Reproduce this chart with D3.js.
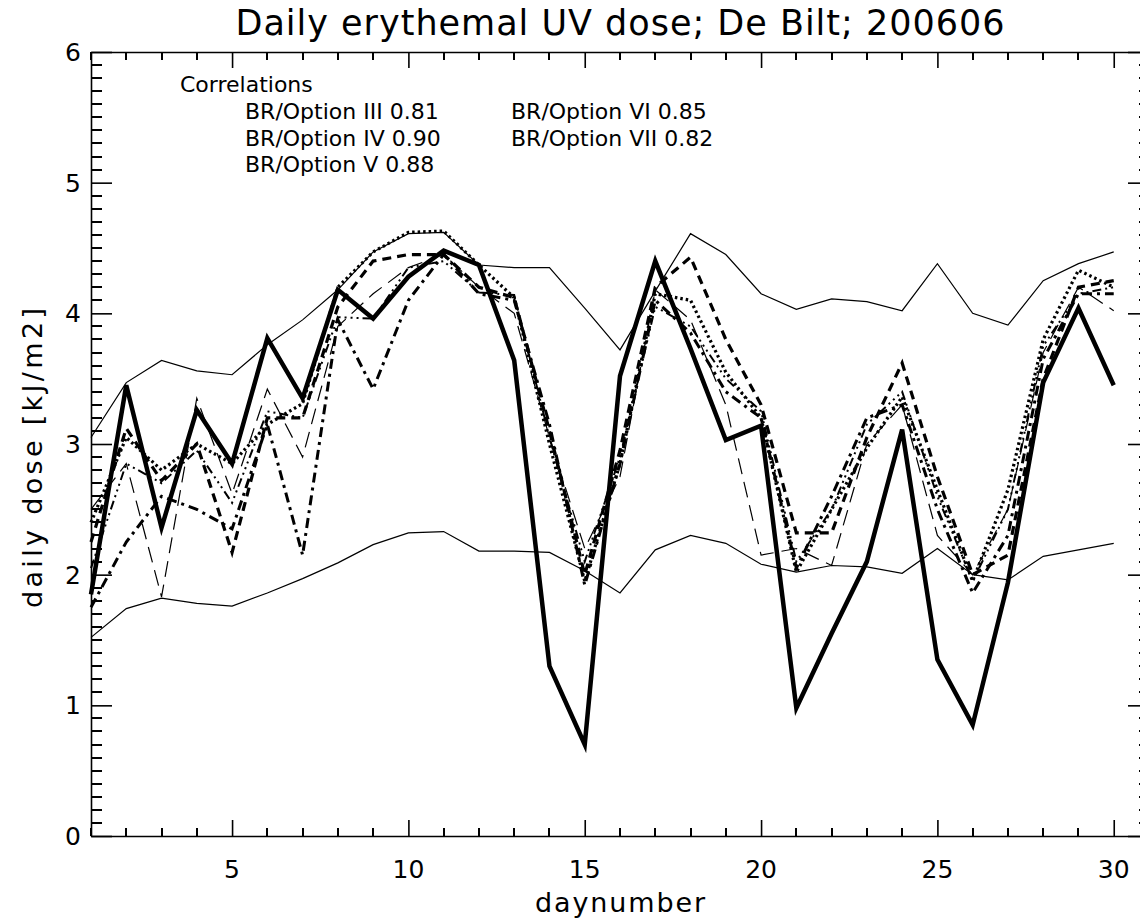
<!DOCTYPE html>
<html lang="en">

<head>
   <meta charset="UTF-8">
   <title>Daily erythemal UV dose</title>
   <script src="https://d3js.org/d3.v7.min.js"></script>
   <style>
      body {
         margin: 0;
         background: #fff;
         font-family: "DejaVu Sans", sans-serif;
      }

      text {
         fill: #000;
      }

      .series {
         fill: none;
         stroke: #000;
         stroke-linejoin: miter;
      }

      .minor {
         stroke: #000;
         stroke-width: 2;
         shape-rendering: crispEdges;
      }
   </style>
</head>

<body>
   <div id="chart"></div>

   <script>
      // day numbers on the x axis
      const days = [1, 2, 3, 4, 5, 6, 7, 8, 9, 10, 11, 12, 13, 14, 15, 16, 17, 18, 19, 20,
         21, 22, 23, 24, 25, 26, 27, 28, 29, 30];

      // BR measurement (thick solid)
      const brDose = [1.85, 3.45, 2.36, 3.26, 2.85, 3.81, 3.35, 4.18, 3.96, 4.28, 4.48, 4.37, 3.64, 1.30, 0.70,
         3.52, 4.40, 3.73, 3.03, 3.14, 0.98, 1.55, 2.10, 3.11, 1.35, 0.85, 1.94, 3.47, 4.04, 3.45];

      // thin solid envelopes
      const upperDose = [3.05, 3.47, 3.64, 3.56, 3.53, 3.76, 3.95, 4.18, 4.47, 4.61, 4.62, 4.37, 4.35, 4.35, 4.04,
         3.72, 4.17, 4.61, 4.45, 4.15, 4.03, 4.11, 4.09, 4.02, 4.38, 4.00, 3.91, 4.25, 4.38, 4.47];
      const lowerDose = [1.52, 1.74, 1.82, 1.78, 1.76, 1.86, 1.97, 2.09, 2.23, 2.32, 2.33, 2.18, 2.18, 2.17, 2.03,
         1.86, 2.19, 2.30, 2.24, 2.08, 2.02, 2.07, 2.06, 2.01, 2.20, 2.00, 1.96, 2.14, 2.19, 2.24];

      // model options
      const optionIII = [2.40, 3.05, 2.80, 3.00, 2.85, 3.15, 3.31, 4.20, 4.47, 4.62, 4.63, 4.37, 4.12, 3.00, 1.95,
         2.85, 4.15, 4.10, 3.55, 3.20, 2.02, 2.50, 2.97, 3.36, 2.65, 1.95, 2.65, 3.80, 4.33, 4.20];
      const optionIV = [2.25, 3.12, 2.72, 3.00, 2.17, 3.20, 3.20, 4.05, 4.40, 4.45, 4.45, 4.20, 4.12, 3.10, 2.00,
         2.95, 4.20, 4.43, 3.80, 3.30, 2.32, 2.32, 3.05, 3.62, 2.75, 2.00, 2.15, 3.50, 4.20, 4.25];
      const optionV = [1.75, 2.25, 2.60, 2.50, 2.35, 3.15, 2.15, 3.95, 3.42, 4.10, 4.45, 4.15, 4.10, 3.15, 1.92,
         2.85, 4.10, 3.85, 3.40, 3.20, 2.05, 2.60, 3.20, 3.30, 2.50, 1.86, 2.30, 3.65, 4.15, 4.15];
      const optionVI = [2.05, 2.85, 2.70, 2.95, 2.55, 3.25, 3.20, 3.97, 3.96, 4.35, 4.40, 4.16, 4.14, 3.05, 2.10,
         2.90, 4.05, 3.90, 3.50, 3.25, 2.10, 2.50, 3.15, 3.40, 2.60, 1.95, 2.50, 3.75, 4.15, 4.20];
      const optionVII = [2.50, 2.85, 1.83, 3.35, 2.62, 3.42, 2.90, 3.90, 4.15, 4.35, 4.45, 4.20, 4.00, 3.05, 2.20,
         2.75, 4.18, 3.95, 3.30, 2.15, 2.20, 2.07, 3.00, 3.30, 2.30, 2.00, 2.50, 3.70, 4.20, 4.02];

      // tick labels
      const xTickValues = [5, 10, 15, 20, 25, 30];
      const yTickValues = [0, 1, 2, 3, 4, 5, 6];

      // legend text
      const legendTitle = 'Correlations';
      const legendLeft = ['BR/Option III 0.81', 'BR/Option IV 0.90', 'BR/Option V 0.88'];
      const legendRight = ['BR/Option VI 0.85', 'BR/Option VII 0.82'];

      const width = 1140;
      const height = 922;
      const margin = { top: 52, right: -9, bottom: 86, left: 91 };

      const svg = d3.select('#chart')
         .append('svg')
         .attr('width', width)
         .attr('height', height);

      // x runs to 31, so the right border falls just outside the picture
      const xScale = d3.scaleLinear()
         .domain([1, 31])
         .range([margin.left, width - margin.right]);

      const yScale = d3.scaleLinear()
         .domain([0, 6])
         .range([height - margin.bottom, margin.top]);

      const plotW = xScale.range()[1] - xScale.range()[0];
      const plotH = yScale.range()[0] - yScale.range()[1];
      const xMajor = Math.round(0.02 * plotH);
      const yMajor = Math.round(0.02 * plotW);

      // minor ticks: every day and every 0.1
      const minorX = d3.range(1, 32).filter(d => !xTickValues.includes(d));
      const minorY = d3.range(0, 61).filter(d => d % 10 !== 0).map(d => d / 10);

      // frame with the long ticks, pointing into the plot
      function drawAxis(axisFn, pos) {
         const scale = (axisFn === d3.axisTop || axisFn === d3.axisBottom) ? xScale : yScale;
         const vals = scale === xScale ? xTickValues : yTickValues;
         const g = svg.append('g')
            .attr('transform', pos)
            .call(axisFn(scale)
               .tickValues(vals)
               .tickSize(scale === xScale ? xMajor : yMajor)
               .tickSizeOuter(0)
               .tickFormat(() => ''));
         g.select('.domain').attr('stroke', '#000').attr('stroke-width', 1.6);
         g.selectAll('.tick line').attr('stroke', '#000').attr('stroke-width', 1.6);
      }

      drawAxis(d3.axisTop, `translate(0, ${yScale(0)})`);
      drawAxis(d3.axisBottom, `translate(0, ${yScale(6)})`);
      drawAxis(d3.axisRight, `translate(${xScale(1)}, 0)`);
      drawAxis(d3.axisLeft, `translate(${xScale(31)}, 0)`);

      // short ticks on all four sides
      const xMinorLen = xMajor / 2;
      const yMinorLen = yMajor / 2;
      const minorTicks = svg.append('g');

      [[yScale(0), -1], [yScale(6), 1]].forEach(([y0, dir]) => {
         minorTicks.selectAll(null)
            .data(minorX)
            .enter()
            .append('line')
            .attr('class', 'minor')
            .attr('x1', d => Math.round(xScale(d)))
            .attr('x2', d => Math.round(xScale(d)))
            .attr('y1', y0)
            .attr('y2', y0 + dir * xMinorLen);
      });

      [[xScale(1), 1], [xScale(31), -1]].forEach(([x0, dir]) => {
         minorTicks.selectAll(null)
            .data(minorY)
            .enter()
            .append('line')
            .attr('class', 'minor')
            .attr('x1', x0)
            .attr('x2', x0 + dir * yMinorLen)
            .attr('y1', d => Math.round(yScale(d)))
            .attr('y2', d => Math.round(yScale(d)));
      });

      // tick labels sit outside the frame
      svg.selectAll('.x-label')
         .data(xTickValues)
         .enter()
         .append('text')
         .attr('class', 'x-label')
         .attr('x', d => xScale(d))
         .attr('y', yScale(0) + 42)
         .attr('text-anchor', 'middle')
         .attr('font-size', 25)
         .text(d => d);

      svg.selectAll('.y-label')
         .data(yTickValues)
         .enter()
         .append('text')
         .attr('class', 'y-label')
         .attr('x', xScale(1) - 10)
         .attr('y', d => yScale(d))
         .attr('dy', '0.36em')
         .attr('text-anchor', 'end')
         .attr('font-size', 25)
         .text(d => d);

      // series, thin first and the BR curve on top
      const series = [
         { values: upperDose, width: 1.2, dash: null },
         { values: lowerDose, width: 1.2, dash: null },
         { values: optionVII, width: 1.2, dash: '16,8' },
         { values: optionVI, width: 2, dash: '9,4,2,4,2,4,2,4' },
         { values: optionV, width: 3, dash: '10,5,3,5' },
         { values: optionIV, width: 3.2, dash: '9,6' },
         { values: optionIII, width: 3.2, dash: '2.5,3' },
         { values: brDose, width: 4.5, dash: null }
      ];

      const line = d3.line()
         .x((d, i) => xScale(days[i]))
         .y(d => yScale(d));

      svg.selectAll('.series')
         .data(series)
         .enter()
         .append('path')
         .attr('class', 'series')
         .attr('d', d => line(d.values))
         .attr('stroke-width', d => d.width)
         .attr('stroke-dasharray', d => d.dash);

      // title and axis titles
      svg.append('text')
         .attr('x', 620)
         .attr('y', 35)
         .attr('text-anchor', 'middle')
         .attr('font-size', 35)
         .attr('textLength', 769)
         .text('Daily erythemal UV dose; De Bilt; 200606');

      svg.append('text')
         .attr('x', 620)
         .attr('y', 912)
         .attr('text-anchor', 'middle')
         .attr('font-size', 27)
         .attr('textLength', 170)
         .text('daynumber');

      svg.append('text')
         .attr('transform', 'translate(42, 458) rotate(-90)')
         .attr('text-anchor', 'middle')
         .attr('font-size', 27)
         .attr('textLength', 300)
         .text('daily dose [kJ/m2]');

      // correlations block
      svg.append('text')
         .attr('x', 180)
         .attr('y', 92)
         .attr('font-size', 22)
         .text(legendTitle);

      svg.selectAll('.leg-left')
         .data(legendLeft)
         .enter()
         .append('text')
         .attr('class', 'leg-left')
         .attr('x', 245)
         .attr('y', (d, i) => 119 + i * 26.7)
         .attr('font-size', 22)
         .text(d => d);

      svg.selectAll('.leg-right')
         .data(legendRight)
         .enter()
         .append('text')
         .attr('class', 'leg-right')
         .attr('x', 511)
         .attr('y', (d, i) => 119 + i * 26.7)
         .attr('font-size', 22)
         .text(d => d);
   </script>
</body>

</html>
